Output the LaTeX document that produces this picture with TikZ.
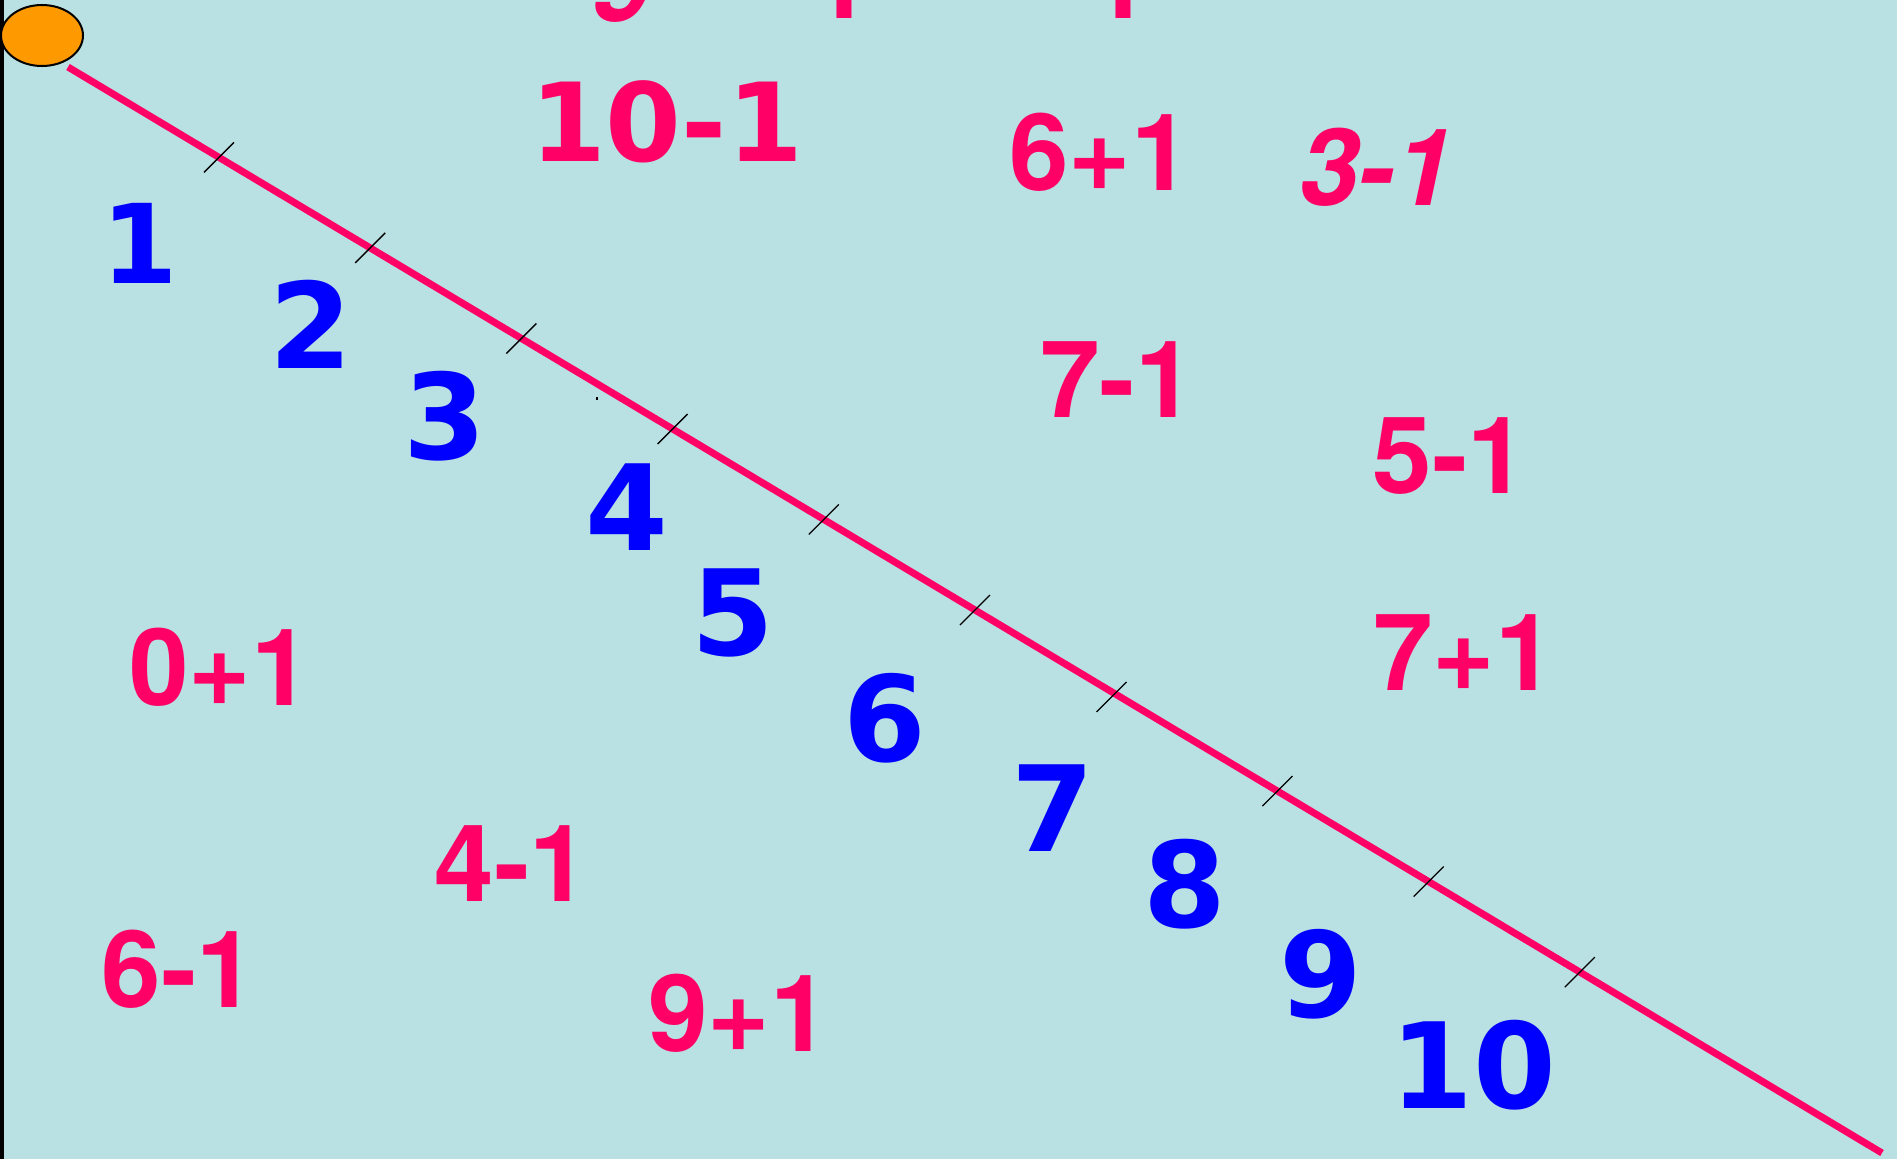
\documentclass[tikz,border=0pt]{standalone}
\usepackage{fontspec}
\usetikzlibrary{shapes.geometric}
\newfontfamily\verdf{DejaVu Sans}
\newfontfamily\helvf{TeX Gyre Heros}
\definecolor{bg}{HTML}{B9E0E3}
\definecolor{pinkred}{HTML}{FF0066}
\definecolor{ballorange}{HTML}{FF9900}
\definecolor{numblue}{HTML}{0000FF}
\begin{document}
\begin{tikzpicture}[x=1pt,y=-1pt,
  bluenum/.style={text=numblue, inner sep=0, font=\verdf\bfseries\fontsize{119}{119}\selectfont},
  pinkv/.style={text=pinkred, inner sep=0, font=\verdf\bfseries\fontsize{109}{109}\selectfont},
  pinka/.style={text=pinkred, inner sep=0, font=\helvf\bfseries\fontsize{107}{107}\selectfont},
  pinkai/.style={text=pinkred, inner sep=0, font=\helvf\bfseries\itshape\fontsize{107}{107}\selectfont},
  tickmark/.style={black, line width=1.3pt},
  numline/.style={pinkred, line width=7pt},
  ballstyle/.style={ellipse, draw=black, line width=2pt, fill=ballorange, minimum width=82pt, minimum height=61pt, inner sep=0}
]
\useasboundingbox (0,0) rectangle (1897,1159);
\fill[bg] (0,0) rectangle (1897,1159);
\fill[black] (0,0) rectangle (4,1159);
\begin{scope}
\clip (0,0) rectangle (1897,1159);
% cut-off texts at the top
\node[pinkai, anchor=base] (topnine) at (622,21) {9};
\node[pinka, anchor=base west] (topone) at (811,18) {1};
\node[pinka, anchor=base west] (toptwo) at (1090,18) {1};
\end{scope}
% number line
\coordinate (lineA) at (68,67);
\coordinate (lineB) at (1882,1153);
\draw[numline] (lineA) -- (lineB);
\foreach \k/\tx in {0/219,1/370.2,2/521.4,3/672.6,4/823.8,5/975,7/1277.4,8/1428.6,9/1579.8}{
  \pgfmathsetmacro{\ty}{67+(\tx-68)*0.5987}
  \coordinate (t\k) at (\tx,\ty);
  \draw[tickmark] ([shift={(-15,15)}]t\k) -- ([shift={(15,-15)}]t\k);
}
\coordinate (t6) at (1111.5,697);
\draw[tickmark] ([shift={(-15,15)}]t6) -- ([shift={(15,-15)}]t6);
\node[ballstyle] (ball) at (42,35.5) {};
\fill[black] (596,397) rectangle (598,400);
% blue numbers
\node[bluenum, font=\verdf\bfseries\fontsize{110}{110}\selectfont] (n1) at (139.7,243.2) {1};
\node[bluenum] (n2) at (310.9,324.8) {2};
\node[bluenum] (n3) at (445.2,416.2) {3};
\node[bluenum] (n4) at (626.7,506.9) {4};
\node[bluenum] (n5) at (733.1,612.8) {5};
\node[bluenum] (n6) at (884.4,718.0) {6};
\node[bluenum] (n7) at (1052.5,808.1) {7};
\node[bluenum] (n8) at (1184.4,883.8) {8};
\node[bluenum] (n9) at (1320.5,973.9) {9};
\node[bluenum] (n10) at (1473.5,1065.2) {10};
% pink expressions
\node[pinkv] (e101) at (666.5,121.6) {10-1};
\node[pinka] (e61p) at (1100,152.4) {6+1};
\node[pinkai] (e31) at (1376.5,167) {3-1};
\node[pinka] (e71) at (1117.5,379.9) {7-1};
\node[pinka] (e51) at (1450,456.1) {5-1};
\node[pinka] (e71p) at (1464,652.1) {7+1};
\node[pinka] (e01p) at (220,667.2) {0+1};
\node[pinka] (e41) at (512,863.8) {4-1};
\node[pinka] (e61) at (179,969.1) {6-1};
\node[pinka] (e91p) at (739,1013.2) {9+1};
\end{tikzpicture}
\end{document}
